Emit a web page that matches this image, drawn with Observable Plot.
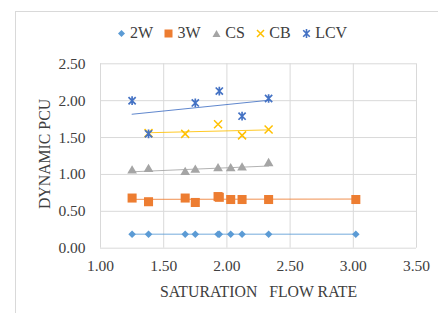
<!DOCTYPE html>
<html>
<head>
<meta charset="utf-8">
<script src="https://cdn.jsdelivr.net/npm/d3@7"></script>
<script src="https://cdn.jsdelivr.net/npm/@observablehq/plot@0.6"></script>
<style>
  body { margin:0; background:#fff; width:438px; height:313px; overflow:hidden; position:relative; font-family:'Liberation Serif', serif; }
  #frame { position:absolute; left:15px; top:11px; width:600px; height:600px; border:1px solid #d9d9d9; }
  #legend { position:absolute; top:24px; left:116.5px; display:flex; align-items:center; font-size:16px; line-height:18px; color:#404040; font-family:'Liberation Serif', serif; }
  .item { display:flex; align-items:center; margin-right:11px; }
  .item svg { margin-right:4.5px; }
  #chart { position:absolute; left:0; top:50px; }
  #chart svg, #chart svg text { font-family:'Liberation Serif', serif !important; }
</style>
</head>
<body>
<div id="frame"></div>
<div id="legend"></div>
<div id="chart"></div>
<script>
const seriesNames = ["2W", "3W", "CS", "CB", "LCV"];
const seriesColors = ["#5B9BD5", "#ED7D31", "#A5A5A5", "#FFC000", "#4472C4"];

const x2W = [1.25, 1.38, 1.67, 1.75, 1.93, 1.94, 2.03, 2.12, 2.33, 3.02];
const y2W = [0.19, 0.19, 0.19, 0.19, 0.19, 0.19, 0.19, 0.19, 0.19, 0.19];
const x3W = [1.25, 1.38, 1.67, 1.75, 1.93, 1.94, 2.03, 2.12, 2.33, 3.02];
const y3W = [0.68, 0.63, 0.68, 0.62, 0.70, 0.69, 0.66, 0.66, 0.66, 0.66];
const xCS = [1.25, 1.38, 1.67, 1.75, 1.93, 2.03, 2.12, 2.33];
const yCS = [1.05, 1.07, 1.03, 1.06, 1.08, 1.08, 1.09, 1.15];
const xCB = [1.38, 1.67, 1.93, 2.12, 2.33];
const yCB = [1.56, 1.55, 1.68, 1.53, 1.61];
const xLCV = [1.25, 1.38, 1.75, 1.94, 2.12, 2.33];
const yLCV = [2.00, 1.55, 1.97, 2.13, 1.79, 2.03];

const xTicks = [1.0, 1.5, 2.0, 2.5, 3.0, 3.5];
const yTicks = [0.0, 0.5, 1.0, 1.5, 2.0, 2.5];
const xTitle = "SATURATION\u00a0\u00a0\u00a0FLOW RATE";
const yTitle = "DYNAMIC PCU";

const toRows = (xs, ys) => xs.map((x, i) => ({x, y: ys[i]}));
const d2W = toRows(x2W, y2W), d3W = toRows(x3W, y3W), dCS = toRows(xCS, yCS), dCB = toRows(xCB, yCB), dLCV = toRows(xLCV, yLCV);

const starSymbol = {
  draw(ctx, size) {
    const s = Math.sqrt(size / Math.PI);
    ctx.moveTo(-s, -s); ctx.lineTo(s, s);
    ctx.moveTo(-s, s); ctx.lineTo(s, -s);
    ctx.moveTo(0, -s * 1.2); ctx.lineTo(0, s * 1.2);
  }
};
const timesSymbol = {
  draw(ctx, size) {
    const s = Math.sqrt(size / Math.PI);
    ctx.moveTo(-s, -s); ctx.lineTo(s, s);
    ctx.moveTo(-s, s); ctx.lineTo(s, -s);
  }
};

const grid = "#d9d9d9";
const reg = (d, c) => Plot.linearRegressionY(d, {x: "x", y: "y", stroke: c, strokeWidth: 1, strokeOpacity: 0.85, ci: 0});

const plot = Plot.plot({
  width: 438,
  height: 263,
  marginLeft: 100,
  marginRight: 22,
  marginTop: 13.3,
  marginBottom: 65.3,
  style: {fontFamily: "Liberation Serif, serif", fontSize: "15.5px", color: "#404040", background: "transparent"},
  x: {domain: [1, 3.5]},
  y: {domain: [0, 2.5]},
  marks: [
    Plot.gridX(xTicks, {stroke: grid, strokeOpacity: 1}),
    Plot.gridY(yTicks, {stroke: grid, strokeOpacity: 1}),
    Plot.axisX(xTicks, {tickSize: 0, tickPadding: 12, tickFormat: d3.format(".2f"), fontSize: 15.5, label: null}),
    Plot.axisY(yTicks, {tickSize: 0, tickPadding: 15, tickFormat: d3.format(".2f"), fontSize: 15.5, label: null}),
    Plot.text([xTitle], {frameAnchor: "bottom", dy: 49, text: d => d, fontSize: 15.8, fill: "#404040"}),
    Plot.text([yTitle], {frameAnchor: "left", textAnchor: "middle", dx: -55.5, dy: -2, rotate: -90, text: d => d, fontSize: 15.8, fill: "#404040"}),
    reg(d2W, seriesColors[0]),
    reg(d3W, seriesColors[1]),
    reg(dCS, seriesColors[2]),
    reg(dCB, seriesColors[3]),
    reg(dLCV, seriesColors[4]),
    Plot.dot(d2W, {x: "x", y: "y", symbol: "diamond2", fill: seriesColors[0], stroke: "none", r: 3.4}),
    Plot.dot(d3W, {x: "x", y: "y", symbol: "square", fill: seriesColors[1], stroke: "none", r: 5.1}),
    Plot.dot(dCS, {x: "x", y: "y", symbol: "triangle", fill: seriesColors[2], stroke: "none", r: 3.6}),
    Plot.dot(dCB, {x: "x", y: "y", symbol: timesSymbol, fill: "none", stroke: seriesColors[3], strokeWidth: 1.5, r: 4}),
    Plot.dot(dLCV, {x: "x", y: "y", symbol: starSymbol, fill: "none", stroke: seriesColors[4], strokeWidth: 1.7, r: 3.6})
  ]
});
document.getElementById("chart").appendChild(plot);

// legend
const legendShapes = [
  c => `<path d="M4.5,1L8,4.5L4.5,8L1,4.5Z" fill="${c}"/>`,
  c => `<rect x="0.5" y="0.5" width="8" height="8" fill="${c}"/>`,
  c => `<path d="M4.5,1L8.5,8L0.5,8Z" fill="${c}"/>`,
  c => `<path d="M1,1L8,8M1,8L8,1" stroke="${c}" stroke-width="1.5"/>`,
  c => `<path d="M1.2,1.2L7.8,7.8M1.2,7.8L7.8,1.2M4.5,0L4.5,9" stroke="${c}" stroke-width="1.6"/>`
];
const legend = document.getElementById("legend");
seriesNames.forEach((name, i) => {
  const item = document.createElement("div");
  item.className = "item";
  item.innerHTML = `<svg width="9" height="9" viewBox="0 0 9 9">${legendShapes[i](seriesColors[i])}</svg><span>${name}</span>`;
  legend.appendChild(item);
});
</script>
</body>
</html>
